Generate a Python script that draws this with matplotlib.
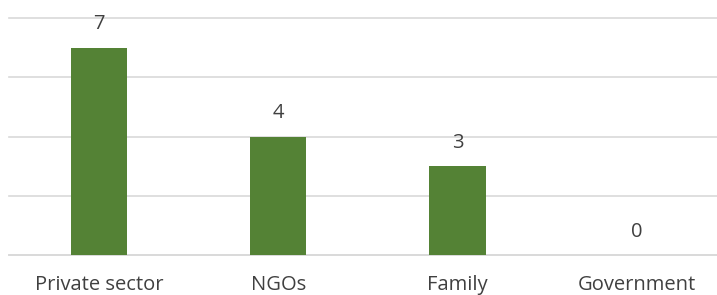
import matplotlib
matplotlib.use('Agg')
import matplotlib.pyplot as plt

categories = ['Private sector', 'NGOs', 'Family', 'Government']
values = [7, 4, 3, 0]

plt.rcParams['font.family'] = ['Open Sans', 'DejaVu Sans']

fig = plt.figure(figsize=(7.17, 2.95), dpi=100)
# plot area runs a little past the right edge, like the source
ax = fig.add_axes([9.4 / 717, 39.7 / 295, 717 / 717, 237.3 / 295])

x = range(len(categories))
ax.bar(x, values, width=0.313, color='#548235', zorder=3)
for xi, v in zip(x, values):
    ax.annotate(str(v), (xi, v), xytext=(0, 13.5), textcoords='offset points',
                ha='center', va='baseline', fontsize=14.5, color='#404040')

ax.set_xlim(-0.5, len(categories) - 0.5)
ax.set_ylim(0, 8)
ax.set_yticks([0, 2, 4, 6, 8])
ax.yaxis.grid(True, color='#d9d9d9', linewidth=1.2)
for gl in ax.get_ygridlines():
    gl.set_clip_on(False)
ax.set_yticklabels([])
ax.tick_params(axis='y', length=0)
ax.tick_params(axis='x', length=0, pad=14, labelsize=14.5, labelcolor='#404040')
ax.set_xticks(list(x))
ax.set_xticklabels(categories)
for s in ['top', 'right', 'left']:
    ax.spines[s].set_visible(False)
ax.spines['bottom'].set_color('#d9d9d9')
ax.spines['bottom'].set_linewidth(1.2)

fig.savefig('out.png', dpi=100)
